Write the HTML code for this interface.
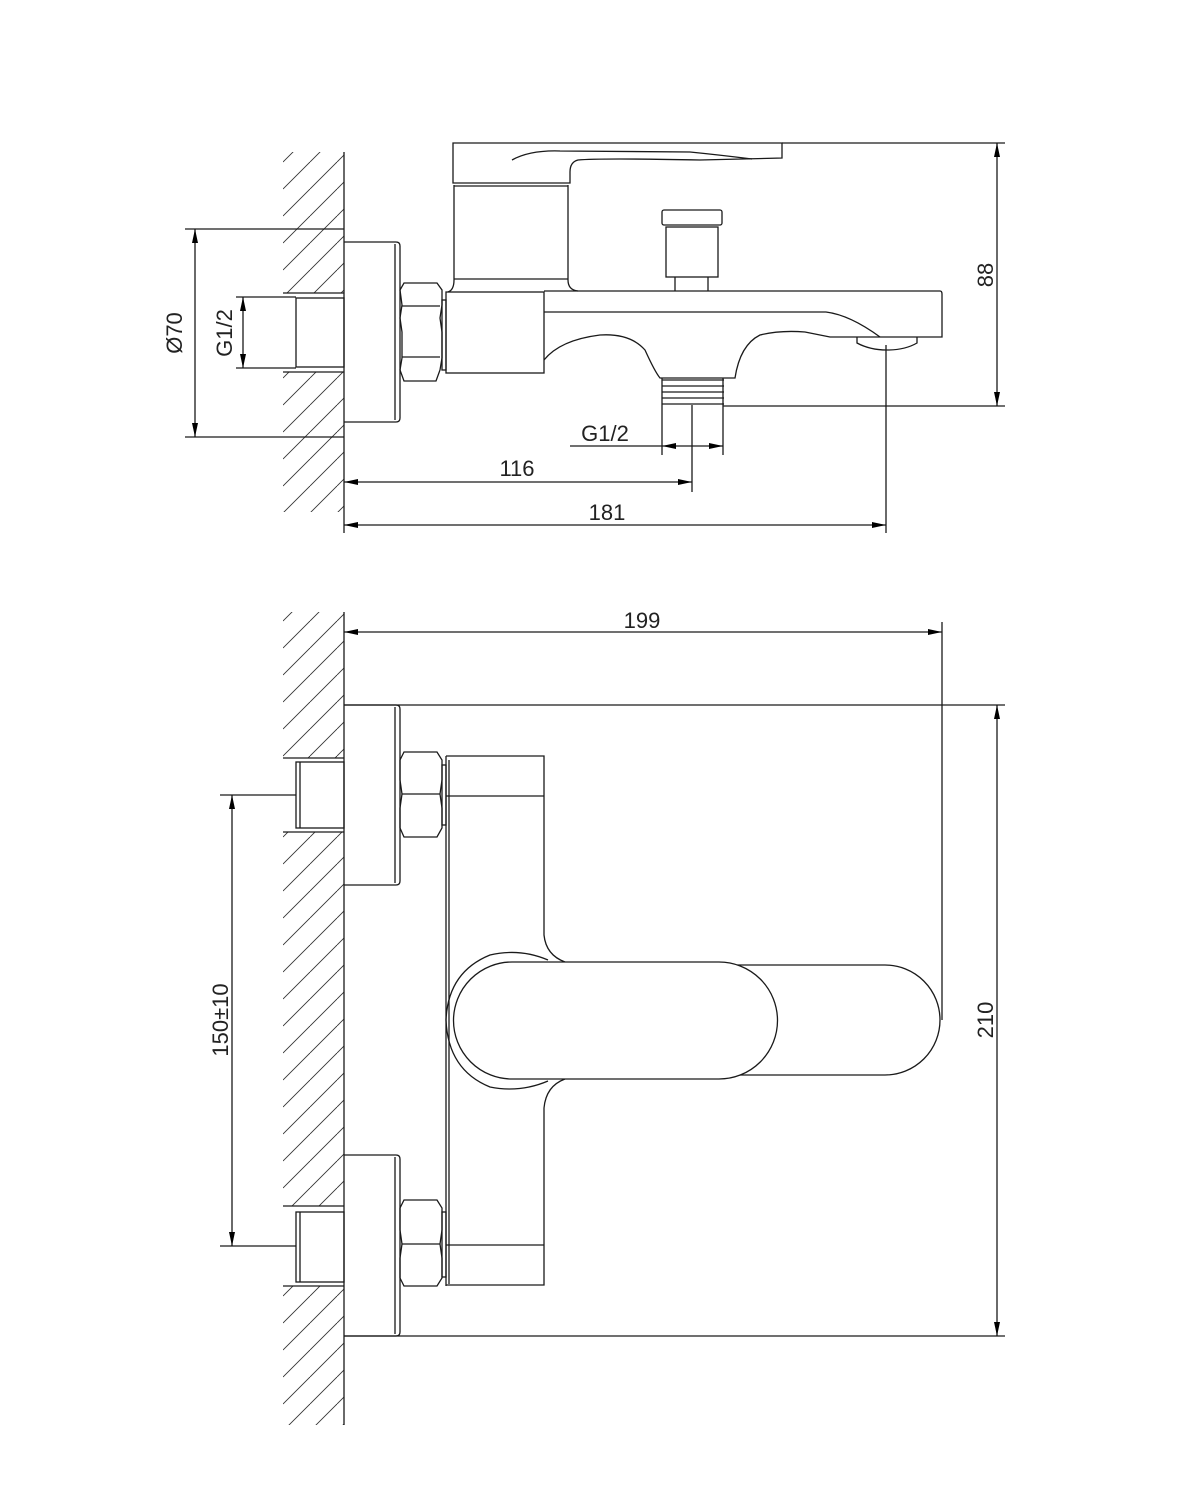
<!DOCTYPE html>
<html><head><meta charset="utf-8"><style>html,body{margin:0;padding:0;background:#fff}svg{display:block}</style></head><body>
<svg width="1200" height="1500" viewBox="0 0 1200 1500" xmlns="http://www.w3.org/2000/svg" font-family="Liberation Sans, sans-serif">
<defs>
<pattern id="h" patternUnits="userSpaceOnUse" width="27" height="27" patternTransform="translate(283,0)">
<line x1="0" y1="27" x2="27" y2="0" stroke="#333" stroke-width="0.9"/>
<line x1="-27" y1="27" x2="0" y2="0" stroke="#333" stroke-width="0.9"/>
<line x1="27" y1="27" x2="54" y2="0" stroke="#333" stroke-width="0.9"/>
</pattern>
<marker id="a" markerWidth="14" markerHeight="6" refX="14" refY="3" orient="auto-start-reverse" markerUnits="userSpaceOnUse"><path d="M0,0 L14,3 L0,6 z" fill="#000"/></marker>
</defs>
<g fill="none" stroke="#1a1a1a" stroke-width="1.3">
<rect x="283" y="152" width="61" height="141" fill="url(#h)" stroke="none"/>
<rect x="283" y="372" width="61" height="140" fill="url(#h)" stroke="none"/>
<line x1="344" y1="152" x2="344" y2="533"/>
<line x1="185" y1="229" x2="344" y2="229"/><line x1="185" y1="437" x2="344" y2="437"/>
<line x1="195" y1="229" x2="195" y2="437" marker-start="url(#a)" marker-end="url(#a)"/>
<line x1="236" y1="297" x2="296" y2="297"/><line x1="236" y1="368" x2="296" y2="368"/>
<line x1="243" y1="297" x2="243" y2="368" marker-start="url(#a)" marker-end="url(#a)"/>
<line x1="283" y1="293" x2="344" y2="293"/><line x1="283" y1="372" x2="344" y2="372"/>
<rect x="296" y="298" width="48" height="69"/>
<path d="M344,242 H396 Q400,242 400,246 V418 Q400,422 396,422 H344"/>
<line x1="395" y1="244" x2="395" y2="420"/>
<path d="M404,283 H437 L442,290 V305 L440,318 L442,332 V358 L440,370 L436,381 H404 L400,370 L402,358 V332 L400,318 L402,305 L400,290 Z"/>
<line x1="402" y1="306" x2="440" y2="306"/><line x1="402" y1="357" x2="440" y2="357"/>
<rect x="442" y="300" width="4" height="70"/>
<rect x="446" y="292" width="98" height="81"/>
<path d="M454,185 V280 Q454,290 448,292"/>
<path d="M568,185 V280 Q568,290 578,291"/>
<line x1="454" y1="279" x2="568" y2="279"/>
<line x1="454" y1="186" x2="568" y2="186"/>
<path d="M453,143 H782 V158 L700,160 Q600,158 578,160 Q570,162 570,172 V183 H453 Z"/>
<path d="M512,160 Q530,150 560,151 L690,152 Q720,155 752,159"/>
<rect x="662" y="210" width="60" height="15" rx="2"/>
<rect x="666" y="227" width="52" height="50"/>
<line x1="675" y1="277" x2="675" y2="291"/><line x1="708" y1="277" x2="708" y2="291"/>
<path d="M544,291 H940 Q942,291 942,294 V337 H857"/>
<path d="M544,312 H826 Q850,315 880,337"/>
<path d="M544,360 Q560,340 600,335 Q630,333 645,350 Q655,372 660,378 H735 Q740,345 760,335 Q780,330 805,332 Q820,335 830,337 H857"/>
<path d="M857,337 V343 Q870,350 887,350 Q905,350 917,343 V337"/>
<path d="M662,380 H724 M662,386 H724 M662,392 H724 M662,398 H724 M662,404 H724"/>
<line x1="662" y1="378" x2="662" y2="455"/><line x1="723" y1="378" x2="723" y2="455"/>
<line x1="692" y1="405" x2="692" y2="492"/>
<line x1="570" y1="446" x2="662" y2="446"/>
<line x1="692" y1="446" x2="662" y2="446" marker-end="url(#a)"/>
<line x1="692" y1="446" x2="723" y2="446" marker-end="url(#a)"/>
<line x1="782" y1="143" x2="1005" y2="143"/><line x1="723" y1="406" x2="1005" y2="406"/>
<line x1="997" y1="143" x2="997" y2="406" marker-start="url(#a)" marker-end="url(#a)"/>
<line x1="344" y1="482" x2="692" y2="482" marker-start="url(#a)" marker-end="url(#a)"/>
<line x1="886" y1="345" x2="886" y2="533"/>
<line x1="344" y1="525" x2="886" y2="525" marker-start="url(#a)" marker-end="url(#a)"/>

<rect x="283" y="612" width="61" height="146" fill="url(#h)" stroke="none"/>
<rect x="283" y="832" width="61" height="374" fill="url(#h)" stroke="none"/>
<rect x="283" y="1286" width="61" height="139" fill="url(#h)" stroke="none"/>
<line x1="344" y1="612" x2="344" y2="1425"/>
<line x1="283" y1="758" x2="344" y2="758"/><line x1="283" y1="832" x2="344" y2="832"/>
<line x1="283" y1="1206" x2="344" y2="1206"/><line x1="283" y1="1286" x2="344" y2="1286"/>
<line x1="344" y1="632" x2="942" y2="632" marker-start="url(#a)" marker-end="url(#a)"/>
<line x1="942" y1="622" x2="942" y2="1020"/>
<line x1="344" y1="705" x2="1005" y2="705"/><line x1="344" y1="1336" x2="1005" y2="1336"/>
<line x1="997" y1="705" x2="997" y2="1336" marker-start="url(#a)" marker-end="url(#a)"/>
<line x1="220" y1="795" x2="296" y2="795"/><line x1="220" y1="1246" x2="296" y2="1246"/>
<line x1="232" y1="795" x2="232" y2="1246" marker-start="url(#a)" marker-end="url(#a)"/>
<path d="M344,705 H396 Q400,705 400,709 V881 Q400,885 396,885 H344"/>
<line x1="395" y1="707" x2="395" y2="883"/>
<rect x="296" y="762" width="48" height="66"/><line x1="300" y1="762" x2="300" y2="828"/>
<path d="M404,752 H437 L442,760 V780 L440,794 L442,808 V828 L437,837 H404 L400,828 V808 L402,794 L400,780 V760 Z"/>
<line x1="402" y1="794" x2="440" y2="794"/>
<rect x="442" y="765" width="4" height="60"/>
<path d="M344,1155 H396 Q400,1155 400,1159 V1332 Q400,1336 396,1336 H344"/>
<line x1="395" y1="1157" x2="395" y2="1334"/>
<rect x="296" y="1212" width="48" height="70"/><line x1="300" y1="1212" x2="300" y2="1282"/>
<path d="M404,1200 H437 L442,1208 V1230 L440,1244 L442,1258 V1278 L437,1286 H404 L400,1278 V1258 L402,1244 L400,1230 V1208 Z"/>
<line x1="402" y1="1244" x2="440" y2="1244"/>
<rect x="442" y="1212" width="4" height="65"/>
<line x1="446" y1="756" x2="446" y2="1286"/><line x1="449" y1="760" x2="449" y2="1284"/>
<path d="M446,756 H544 V935 Q546,955 565,962"/>
<line x1="446" y1="796" x2="544" y2="796"/>
<path d="M565,1079 Q546,1086 544,1108 V1285 H446"/>
<line x1="446" y1="1245" x2="544" y2="1245"/>
<path d="M548,960 Q520,948 490,955 Q448,972 446,1020 Q448,1070 490,1087 Q520,1093 548,1081"/>
<path d="M737,965 H885 A55,55 0 0 1 885,1075 H737"/>
<path d="M512,962 H719 A58.5,58.5 0 0 1 719,1079 H512 A58.5,58.5 0 0 1 512,962 Z" fill="#fff"/>
</g>
<g fill="#222" font-size="22">
<text x="182" y="333" transform="rotate(-90 182 333)" text-anchor="middle">Ø70</text>
<text x="232" y="333" transform="rotate(-90 232 333)" text-anchor="middle">G1/2</text>
<text x="605" y="441" text-anchor="middle">G1/2</text>
<text x="517" y="476" text-anchor="middle">116</text>
<text x="607" y="520" text-anchor="middle">181</text>
<text x="993" y="275" transform="rotate(-90 993 275)" text-anchor="middle">88</text>
<text x="642" y="628" text-anchor="middle">199</text>
<text x="993" y="1020" transform="rotate(-90 993 1020)" text-anchor="middle">210</text>
<text x="228" y="1020" transform="rotate(-90 228 1020)" text-anchor="middle">150±10</text>
</g>
</svg>
</body></html>
